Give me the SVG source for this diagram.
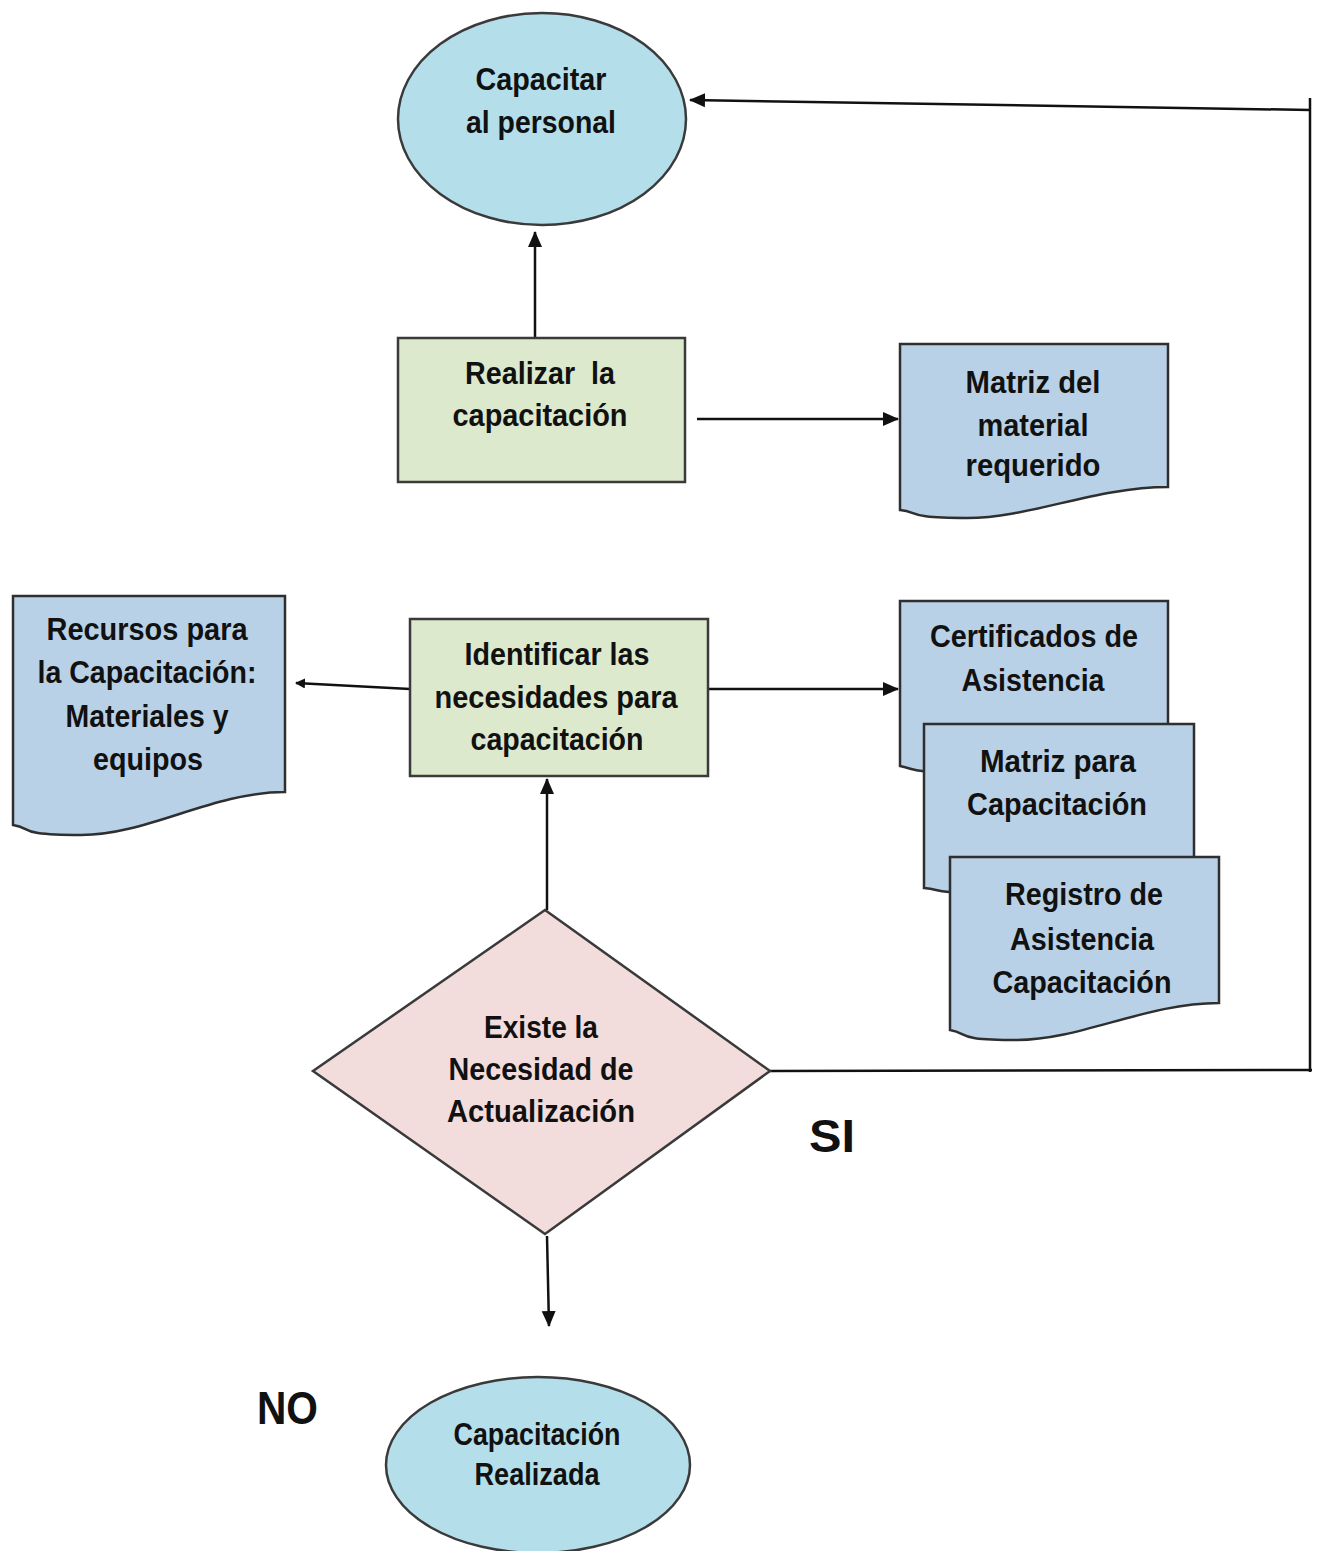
<svg xmlns="http://www.w3.org/2000/svg" width="1320" height="1551" viewBox="0 0 1320 1551">
<style>
.t{font-family:"Liberation Sans",Arial,sans-serif;font-weight:bold;font-size:31px;fill:#111;text-anchor:middle}
.ell{fill:#b4deea;stroke:#3a3a3a;stroke-width:2.5}
.proc{fill:#dce9cc;stroke:#3a3a3a;stroke-width:2.5}
.doc{fill:#b9d1e6;stroke:#2f2f2f;stroke-width:2.5}
.dia{fill:#f3dcdc;stroke:#3a3a3a;stroke-width:2.5}
.c{fill:none;stroke:#111;stroke-width:2.5}
.lbl{font-family:"Liberation Sans",Arial,sans-serif;font-weight:bold;font-size:46px;fill:#111}
</style>
<defs>
<marker id="ah" markerWidth="10" markerHeight="10" refX="9" refY="5" orient="auto" markerUnits="userSpaceOnUse"><path d="M0,0 L10,5 L0,10 z" fill="#111"/></marker>
<marker id="ahb" markerWidth="16" markerHeight="16" refX="15" refY="8" orient="auto" markerUnits="userSpaceOnUse"><path d="M0,1 L16,8 L0,15 z" fill="#111"/></marker>
</defs>
<g id="connectors">
<path class="c" d="M535,338 V232" marker-end="url(#ahb)"/>
<path class="c" d="M697,419 H898" marker-end="url(#ahb)"/>
<path class="c" d="M410,689 L296,683" marker-end="url(#ah)"/>
<path class="c" d="M708,689 H898" marker-end="url(#ahb)"/>
<path class="c" d="M547,910 V779" marker-end="url(#ahb)"/>
<path class="c" d="M547,1236 L549,1326" marker-end="url(#ahb)"/>
<path class="c" d="M770,1071 L1312,1070 M1310,1072 V98 M1310,110 L690,100" marker-end="url(#ahb)"/>
</g>
<g id="n_capacitar">
<ellipse class="ell" cx="542" cy="119" rx="144" ry="106"/>
<text class="t" x="541" y="90" textLength="131" lengthAdjust="spacingAndGlyphs">Capacitar</text>
<text class="t" x="541" y="133" textLength="150" lengthAdjust="spacingAndGlyphs">al personal</text>
</g>
<g id="n_realizar">
<rect class="proc" x="398" y="338" width="287" height="144"/>
<text class="t" x="540" y="384" textLength="150" lengthAdjust="spacingAndGlyphs" xml:space="preserve">Realizar  la</text>
<text class="t" x="540" y="426" textLength="175" lengthAdjust="spacingAndGlyphs">capacitación</text>
</g>
<g id="n_matriz_material">
<path class="doc" d="M900,344 H1168 V487 C1095,487 1030,518 967,518 S920,512 900,510 Z"/>
<text class="t" x="1033" y="393" textLength="135" lengthAdjust="spacingAndGlyphs">Matriz del</text>
<text class="t" x="1033" y="436" textLength="111" lengthAdjust="spacingAndGlyphs">material</text>
<text class="t" x="1033" y="476" textLength="135" lengthAdjust="spacingAndGlyphs">requerido</text>
</g>
<g id="n_recursos">
<path class="doc" d="M13,596 H285 V792 C212,792 148,835 81,835 S34,828 13,825 Z"/>
<text class="t" x="147" y="640" textLength="201" lengthAdjust="spacingAndGlyphs">Recursos para</text>
<text class="t" x="147" y="683" textLength="219" lengthAdjust="spacingAndGlyphs">la Capacitación:</text>
<text class="t" x="147" y="727" textLength="163" lengthAdjust="spacingAndGlyphs">Materiales y</text>
<text class="t" x="148" y="770" textLength="110" lengthAdjust="spacingAndGlyphs">equipos</text>
</g>
<g id="n_identificar">
<rect class="proc" x="410" y="619" width="298" height="157"/>
<text class="t" x="557" y="665" textLength="185" lengthAdjust="spacingAndGlyphs">Identificar las</text>
<text class="t" x="556" y="708" textLength="243" lengthAdjust="spacingAndGlyphs">necesidades para</text>
<text class="t" x="557" y="750" textLength="173" lengthAdjust="spacingAndGlyphs">capacitación</text>
</g>
<g id="n_certificados">
<path class="doc" d="M900,601 H1168 V755 C1095,755 1030,772 967,772 S920,770 900,766 Z"/>
<text class="t" x="1034" y="647" textLength="208" lengthAdjust="spacingAndGlyphs">Certificados de</text>
<text class="t" x="1033" y="691" textLength="143" lengthAdjust="spacingAndGlyphs">Asistencia</text>
</g>
<g id="n_matriz_cap">
<path class="doc" d="M924,724 H1194 V868 C1120,868 1055,893 991,893 S945,890 924,888 Z"/>
<text class="t" x="1058" y="772" textLength="156" lengthAdjust="spacingAndGlyphs">Matriz para</text>
<text class="t" x="1057" y="815" textLength="180" lengthAdjust="spacingAndGlyphs">Capacitación</text>
</g>
<g id="n_registro">
<path class="doc" d="M950,857 H1219 V1003 C1146,1003 1081,1040 1017,1040 S971,1034 950,1030 Z"/>
<text class="t" x="1084" y="905" textLength="158" lengthAdjust="spacingAndGlyphs">Registro de</text>
<text class="t" x="1082" y="950" textLength="144" lengthAdjust="spacingAndGlyphs">Asistencia</text>
<text class="t" x="1082" y="993" textLength="179" lengthAdjust="spacingAndGlyphs">Capacitación</text>
</g>
<g id="n_decision">
<path class="dia" d="M545,910 L770,1071 L545,1234 L313,1071 Z"/>
<text class="t" x="541" y="1038" textLength="114" lengthAdjust="spacingAndGlyphs">Existe la</text>
<text class="t" x="541" y="1080" textLength="185" lengthAdjust="spacingAndGlyphs">Necesidad de</text>
<text class="t" x="541" y="1122" textLength="188" lengthAdjust="spacingAndGlyphs">Actualización</text>
</g>
<g id="n_realizada">
<ellipse class="ell" cx="538" cy="1465" rx="152" ry="88"/>
<text class="t" x="537" y="1445" textLength="167" lengthAdjust="spacingAndGlyphs">Capacitación</text>
<text class="t" x="537" y="1485" textLength="125" lengthAdjust="spacingAndGlyphs">Realizada</text>
</g>
<g id="labels">
<text class="lbl" x="809" y="1152" textLength="46" lengthAdjust="spacingAndGlyphs">SI</text>
<text class="lbl" x="257" y="1424" textLength="61" lengthAdjust="spacingAndGlyphs">NO</text>
</g>
</svg>
